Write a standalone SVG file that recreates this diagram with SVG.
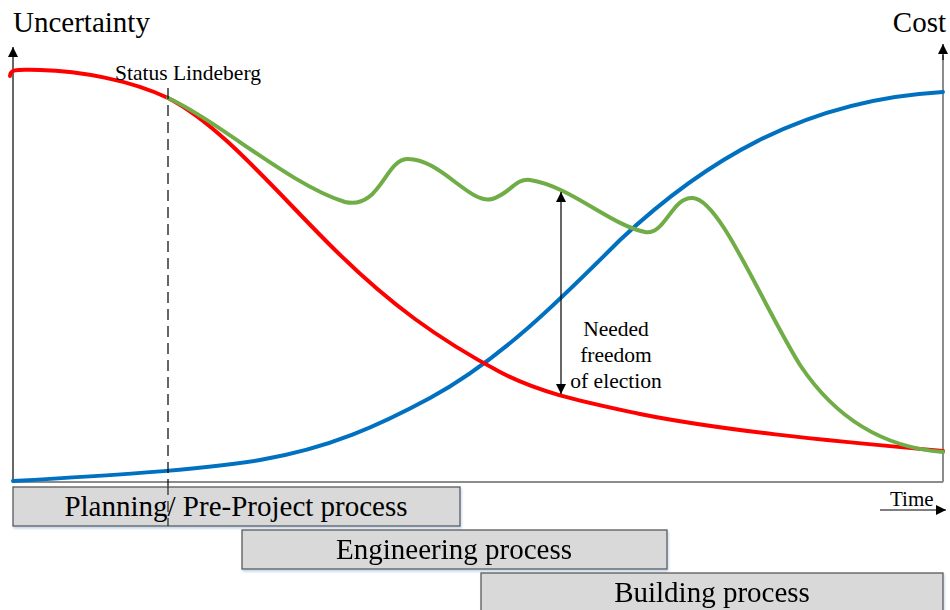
<svg xmlns="http://www.w3.org/2000/svg" width="950" height="610" viewBox="0 0 950 610">
  <defs>
    <marker id="tip" viewBox="0 0 10 10" refX="10" refY="5" markerWidth="10" markerHeight="10" markerUnits="userSpaceOnUse" orient="auto-start-reverse">
      <path d="M0,0 L10,5 L0,10 z" fill="#000"/>
    </marker>
    <filter id="shadow" x="-5%" y="-20%" width="110%" height="150%">
      <feDropShadow dx="1" dy="2" stdDeviation="1.2" flood-color="#9bb7d9" flood-opacity="0.6"/>
    </filter>
  </defs>
  <style>
    text { font-family: "Liberation Serif", "Times New Roman", serif; fill: #000; }
    .axis { stroke: #000; stroke-width: 1.2; fill: none; }
    .frame { stroke: #8c8c8c; stroke-width: 2; fill: none; }
    .curve { fill: none; stroke-width: 4; stroke-linecap: round; }
    .box rect { fill: #d9d9d9; stroke: #595959; stroke-width: 1.3; }
    .lbl { font-size: 29px; text-anchor: middle; }
  </style>
  <rect width="950" height="610" fill="#fff"/>

  <!-- axes -->
  <g id="axes">
    <line class="frame" x1="13" y1="482" x2="943" y2="482"/>
    <line class="frame" x1="943" y1="482" x2="943" y2="55"/>
    <line class="axis" x1="943" y1="60" x2="943" y2="44" marker-end="url(#tip)"/>
    <line class="axis" x1="13" y1="482" x2="13" y2="47" marker-end="url(#tip)"/>
    <text x="13" y="32" font-size="29">Uncertainty</text>
    <text x="946" y="32" font-size="29" text-anchor="end">Cost</text>
    <text x="890" y="506" font-size="21">Time</text>
    <line class="axis" x1="880" y1="510" x2="946" y2="510" marker-end="url(#tip)"/>
  </g>

  <!-- curves -->
  <g id="connectors">
    <path id="cost" class="curve" stroke="#0070c0" d="M13,481 C100,476 200,470 260,460 C330,448 380,425 430,398 C500,360 560,300 620,240 C700,165 800,100 943,92"/>
    <path id="uncertainty" class="curve" stroke="#ff0000" d="M10,76 C10,68 20,70 40,70 C80,71 130,80 168,98 C220,125 270,185 330,245 C390,305 440,340 500,372 C540,393 580,401 640,414 C720,430 820,440 943,451"/>
    <path id="freedom" class="curve" stroke="#70ad47" d="M168,98 C220,122 290,185 345,202 C380,210 385,160 407,159 C440,158 470,205 492,199 C510,194 515,178 530,180 C570,186 610,225 645,232 C665,236 672,196 693,198 C720,200 760,300 800,365 C840,425 890,448 943,452"/>
    <line class="axis" x1="168" y1="88" x2="168" y2="526" stroke-dasharray="11,6" stroke="#222"/>
    <line class="axis" x1="561" y1="192" x2="561" y2="394" stroke-width="1" marker-start="url(#tip)" marker-end="url(#tip)"/>
  </g>

  <!-- labels -->
  <g id="status-label">
    <text x="115" y="80" font-size="21.5">Status Lindeberg</text>
  </g>
  <g id="freedom-label" font-size="21.5" text-anchor="middle">
    <text x="616" y="336">Needed</text>
    <text x="616" y="362">freedom</text>
    <text x="616" y="388">of election</text>
  </g>

  <!-- phases -->
  <g id="planning" class="box" filter="url(#shadow)">
    <rect x="13" y="487" width="447" height="39"/>
  </g>
  <text class="lbl" x="236" y="516">Planning/ Pre-Project process</text>
  <line x1="168" y1="487" x2="168" y2="526" stroke="#222" stroke-width="1.2" stroke-dasharray="11,6" stroke-dashoffset="3"/>
  <g id="engineering" class="box" filter="url(#shadow)">
    <rect x="242" y="530" width="425" height="39"/>
    <text class="lbl" x="454" y="559">Engineering process</text>
  </g>
  <g id="building" class="box" filter="url(#shadow)">
    <rect x="481" y="573" width="462" height="42"/>
    <text class="lbl" x="712" y="602">Building process</text>
  </g>
</svg>
